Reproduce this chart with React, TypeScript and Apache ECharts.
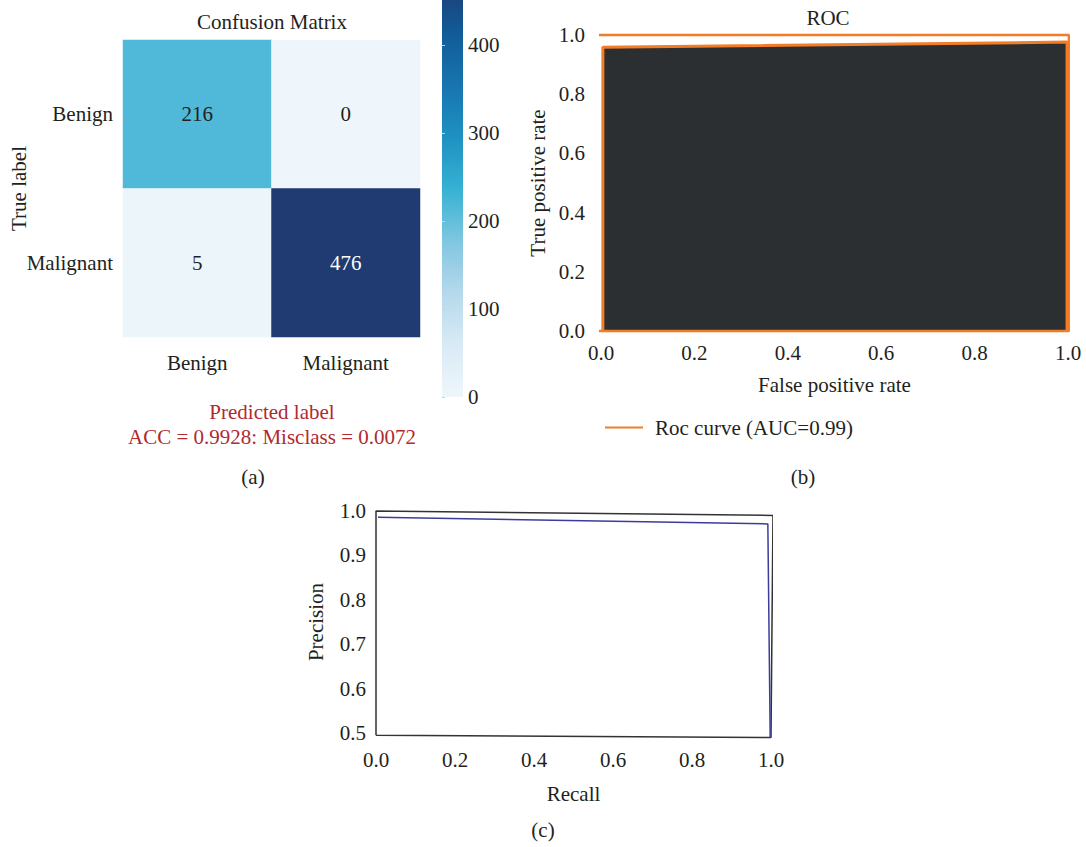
import React, { useEffect, useRef } from 'react';
import * as echarts from 'echarts';

const cmClasses = ['Benign', 'Malignant'];
const cmMatrix = [
  [216, 0],
  [5, 476],
];
const colorbarMin = 0;
const colorbarMax = 476;
const colorbarInterval = 100;
const cmColors = ['#eef6fb', '#d9eaf5', '#b5d8ec', '#7ec6e0', '#35b0d3', '#1d90c1', '#1873ae', '#115a97', '#203a72'];

const rocLegend = 'Roc curve (AUC=0.99)';
const rocOuterX = [-0.008, -0.008, 1.002, 1.002, -0.008];
const rocOuterY = [0, 1.0, 1.0, 0, 0];
const rocCurveX = [0.004, 0.004, 0.998, 0.998];
const rocCurveY = [0, 0.959, 0.976, 0];

const prBoxX = [0, 0, 1.005, 1.0, 0];
const prBoxY = [0.495, 1.0, 0.99, 0.49, 0.495];
const prCurveX = [0.005, 0.992, 0.998];
const prCurveY = [0.986, 0.971, 0.489];

const FONT = 'Liberation Serif';
const FS = 21;
const TXT = '#231f20';
const RED = '#b02a30';
const ORANGE = '#f37c26';

const zip = (xs: number[], ys: number[]) => xs.map((x, i) => [x, ys[i]]);

export default function App() {
  const ref = useRef<HTMLDivElement>(null);
  useEffect(() => {
    if (!ref.current) return;
    const chart = echarts.init(ref.current, undefined, { renderer: 'svg' });

    const heatData: any[] = [];
    cmMatrix.forEach((row, yi) =>
      row.forEach((v, xi) => {
        heatData.push({ value: [xi, yi, v], label: { color: v > 300 ? '#ffffff' : TXT } });
      })
    );

    const labelStyle = { fontFamily: FONT, fontSize: FS, color: TXT };
    const nameStyle = { fontFamily: FONT, fontSize: FS, color: TXT };
    const fmt1 = (v: number) => v.toFixed(1);
    const txt = (text: string, x: number, y: number, fill = TXT) => ({
      type: 'text', x, y,
      style: { text, fontFamily: FONT, fontSize: FS, fill, align: 'center', verticalAlign: 'middle' },
    });

    // colorbar geometry: value 0 at y=397, 400 at y=45 (cropped at top of the page)
    const cbBottom = 397;
    const pxPerUnit = (397 - 45) / 400;
    const cbHeight = colorbarMax * pxPerUnit;
    const cbTop = cbBottom - cbHeight;
    const n = cmColors.length;
    const cbStops = cmColors.map((_, i) => ({ offset: i / (n - 1), color: cmColors[n - 1 - i] }));

    const gridBase = { outerBoundsMode: 'none', containLabel: false };

    const option: any = {
      animation: false,
      backgroundColor: '#ffffff',
      textStyle: { fontFamily: FONT },
      grid: [
        { ...gridBase, left: 123, top: 40, width: 297, height: 297 },
        { ...gridBase, left: 601, top: 35, width: 467, height: 296 },
        { ...gridBase, left: 376, top: 511, width: 395, height: 222 },
        { ...gridBase, left: 442, top: cbTop, width: 21, height: cbHeight },
      ],
      xAxis: [
        {
          gridIndex: 0, type: 'category', data: cmClasses,
          axisLine: { show: false }, axisTick: { show: false },
          axisLabel: { ...labelStyle, margin: 15 },
        },
        {
          gridIndex: 1, type: 'value', min: 0, max: 1, interval: 0.2,
          axisLine: { show: false }, axisTick: { show: false }, splitLine: { show: false },
          axisLabel: { ...labelStyle, margin: 11, formatter: fmt1 },
          name: 'False positive rate', nameLocation: 'middle', nameGap: 43, nameTextStyle: nameStyle,
          nameMoveOverlap: false,
        },
        {
          gridIndex: 2, type: 'value', min: 0, max: 1, interval: 0.2,
          axisLine: { show: false }, axisTick: { show: false }, splitLine: { show: false },
          axisLabel: { ...labelStyle, margin: 16, formatter: fmt1 },
          name: 'Recall', nameLocation: 'middle', nameGap: 50, nameTextStyle: nameStyle,
          nameMoveOverlap: false,
        },
        { gridIndex: 3, type: 'value', min: 0, max: 1, show: false },
      ],
      yAxis: [
        {
          gridIndex: 0, type: 'category', data: cmClasses, inverse: true,
          axisLine: { show: false }, axisTick: { show: false },
          axisLabel: { ...labelStyle, margin: 10 },
          name: 'True label', nameLocation: 'middle', nameGap: 94, nameTextStyle: nameStyle,
          nameMoveOverlap: false,
        },
        {
          gridIndex: 1, type: 'value', min: 0, max: 1, interval: 0.2,
          axisLine: { show: false }, axisTick: { show: false }, splitLine: { show: false },
          axisLabel: { ...labelStyle, margin: 16, formatter: fmt1 },
          name: 'True positive rate', nameLocation: 'middle', nameGap: 53, nameTextStyle: nameStyle,
          nameMoveOverlap: false,
        },
        {
          gridIndex: 2, type: 'value', min: 0.5, max: 1, interval: 0.1,
          axisLine: { show: false }, axisTick: { show: false }, splitLine: { show: false },
          axisLabel: { ...labelStyle, margin: 10, formatter: fmt1 },
          name: 'Precision', nameLocation: 'middle', nameGap: 50, nameTextStyle: nameStyle,
          nameMoveOverlap: false,
        },
        {
          gridIndex: 3, type: 'value', min: colorbarMin, max: colorbarMax, interval: colorbarInterval,
          position: 'right',
          axisLine: { show: false },
          axisTick: { show: true, length: 3, lineStyle: { color: '#d0d0d0' } },
          splitLine: { show: false },
          axisLabel: { ...labelStyle, margin: 5, showMaxLabel: false },
        },
      ],
      visualMap: {
        type: 'continuous',
        show: false,
        seriesIndex: 0,
        dimension: 2,
        min: colorbarMin,
        max: colorbarMax,
        inRange: { color: cmColors },
      },
      legend: {
        data: [rocLegend],
        left: 600,
        top: 412,
        icon: 'rect',
        itemWidth: 38,
        itemHeight: 2,
        textStyle: { fontFamily: FONT, fontSize: FS, color: TXT, padding: [0, 0, 0, 7] },
      },
      graphic: [
        {
          type: 'rect',
          shape: { x: 442, y: cbTop, width: 21, height: cbHeight },
          style: { fill: new echarts.graphic.LinearGradient(0, 0, 0, 1, cbStops) },
          z: 0,
        },
        txt('Confusion Matrix', 272, 22),
        txt('ROC', 828, 18),
        txt('Predicted label', 272, 412, RED),
        txt('ACC = 0.9928: Misclass = 0.0072', 272, 437, RED),
        txt('(a)', 253, 477),
        txt('(b)', 803, 477),
        txt('(c)', 543, 830),
      ],
      series: [
        {
          type: 'heatmap',
          xAxisIndex: 0,
          yAxisIndex: 0,
          data: heatData,
          label: { show: true, fontFamily: FONT, fontSize: FS, formatter: (p: any) => String(p.value[2]) },
          emphasis: { disabled: true },
        },
        {
          type: 'line',
          name: rocLegend,
          xAxisIndex: 1,
          yAxisIndex: 1,
          data: zip(rocOuterX, rocOuterY),
          showSymbol: false,
          clip: false,
          itemStyle: { color: ORANGE },
          lineStyle: { color: ORANGE, width: 2.5 },
        },
        {
          type: 'line',
          name: 'roc-fill',
          xAxisIndex: 1,
          yAxisIndex: 1,
          data: zip(rocCurveX, rocCurveY),
          showSymbol: false,
          clip: false,
          lineStyle: { color: ORANGE, width: 3 },
          areaStyle: { color: '#2b2f32', opacity: 1, origin: 'start' },
          z: 1,
        },
        {
          type: 'line',
          name: 'pr-box',
          xAxisIndex: 2,
          yAxisIndex: 2,
          data: zip(prBoxX, prBoxY),
          showSymbol: false,
          clip: false,
          lineStyle: { color: '#333333', width: 1.5 },
        },
        {
          type: 'line',
          name: 'pr-curve',
          xAxisIndex: 2,
          yAxisIndex: 2,
          data: zip(prCurveX, prCurveY),
          showSymbol: false,
          clip: false,
          lineStyle: { color: '#3c3c9c', width: 1.5 },
        },
        {
          type: 'scatter',
          xAxisIndex: 3,
          yAxisIndex: 3,
          data: [],
        },
      ],
    };
    chart.setOption(option);
    return () => chart.dispose();
  }, []);
  return (
    <div
      ref={ref}
      style={{ position: 'fixed', left: 0, top: 0, width: 1086, height: 847, background: '#ffffff' }}
    />
  );
}
